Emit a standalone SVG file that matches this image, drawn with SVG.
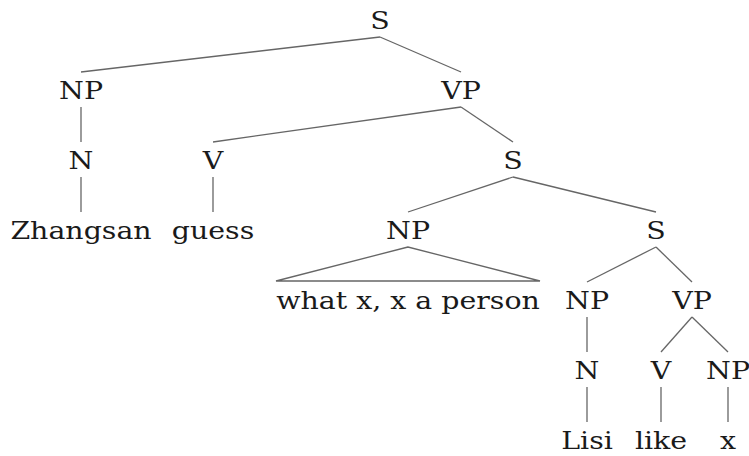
<svg xmlns="http://www.w3.org/2000/svg" width="749" height="456" viewBox="0 0 749 456">
<style>
text{font-family:"DejaVu Serif",serif;font-size:24.5px;fill:#1a1a1a;text-anchor:middle}
.e line,.e polygon{stroke:#666;stroke-width:1.3;fill:none}
</style>
<rect width="749" height="456" fill="#fff"/>
<g class="e" id="connectors">
<line x1="380" y1="37" x2="81" y2="72"/>
<line x1="380" y1="37" x2="461" y2="72"/>
<line x1="81" y1="107" x2="81" y2="142"/>
<line x1="81" y1="177" x2="81" y2="212"/>
<line x1="461" y1="107" x2="213" y2="142"/>
<line x1="461" y1="107" x2="513" y2="142"/>
<line x1="213" y1="177" x2="213" y2="212"/>
<line x1="513" y1="177" x2="408" y2="212"/>
<line x1="513" y1="177" x2="656" y2="212"/>
<polygon points="408,247 276,281 540,281"/>
<line x1="656" y1="247" x2="587" y2="282"/>
<line x1="656" y1="247" x2="692" y2="282"/>
<line x1="587" y1="317" x2="587" y2="352"/>
<line x1="692" y1="317" x2="661" y2="352"/>
<line x1="692" y1="317" x2="728" y2="352"/>
<line x1="587" y1="387" x2="587" y2="422"/>
<line x1="661" y1="387" x2="661" y2="422"/>
<line x1="728" y1="387" x2="728" y2="422"/>
</g>
<g id="n1"><text transform="translate(380,28.5) scale(1.16,1)">S</text></g>
<g id="n2"><text transform="translate(81,98.5) scale(1.16,1)">NP</text></g>
<g id="n3"><text transform="translate(461,98.5) scale(1.16,1)">VP</text></g>
<g id="n4"><text transform="translate(81,168.5) scale(1.16,1)">N</text></g>
<g id="n5"><text transform="translate(81,238.5) scale(1.16,1)">Zhangsan</text></g>
<g id="n6"><text transform="translate(213,168.5) scale(1.16,1)">V</text></g>
<g id="n7"><text transform="translate(213,238.5) scale(1.16,1)">guess</text></g>
<g id="n8"><text transform="translate(513,168.5) scale(1.16,1)">S</text></g>
<g id="n9"><text transform="translate(408,238.5) scale(1.16,1)">NP</text></g>
<g id="n10"><text transform="translate(408,308.5) scale(1.16,1)">what x, x a person</text></g>
<g id="n11"><text transform="translate(656,238.5) scale(1.16,1)">S</text></g>
<g id="n12"><text transform="translate(587,308.5) scale(1.16,1)">NP</text></g>
<g id="n13"><text transform="translate(692,308.5) scale(1.16,1)">VP</text></g>
<g id="n14"><text transform="translate(587,378.5) scale(1.16,1)">N</text></g>
<g id="n15"><text transform="translate(587,448.5) scale(1.16,1)">Lisi</text></g>
<g id="n16"><text transform="translate(661,378.5) scale(1.16,1)">V</text></g>
<g id="n17"><text transform="translate(661,448.5) scale(1.16,1)">like</text></g>
<g id="n18"><text transform="translate(728,378.5) scale(1.16,1)">NP</text></g>
<g id="n19"><text transform="translate(728,448.5) scale(1.16,1)">x</text></g>
</svg>
